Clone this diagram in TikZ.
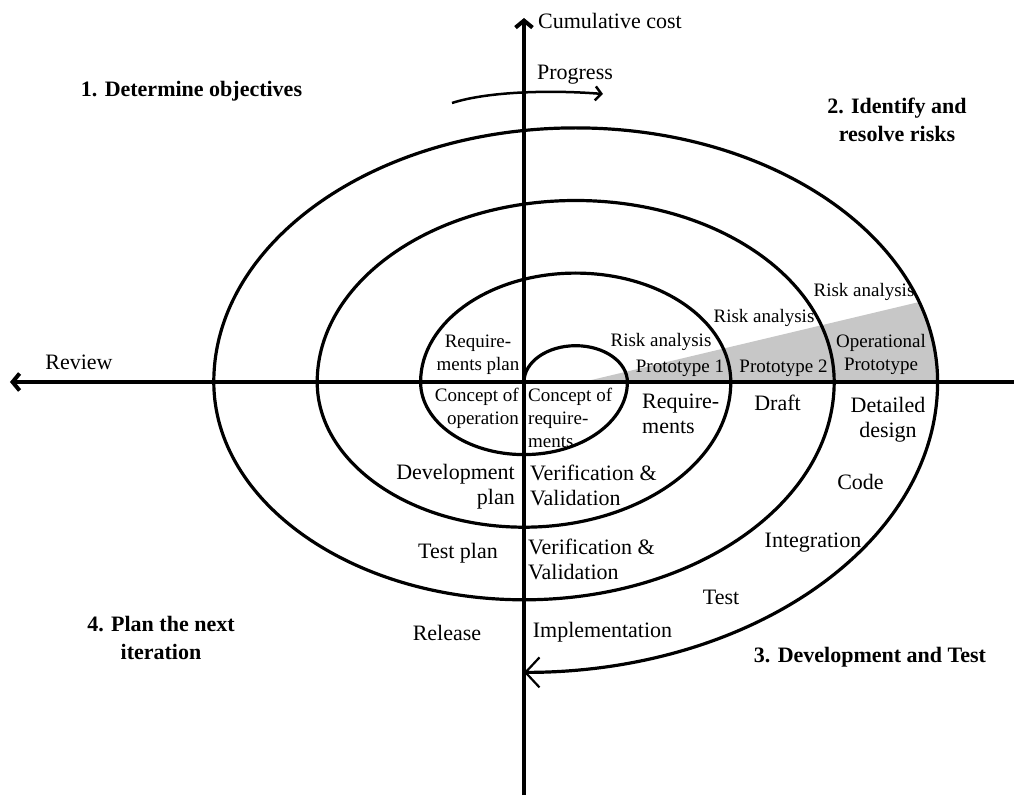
\documentclass[tikz,border=0pt]{standalone}
\usepackage{fontspec}
\setmainfont{Liberation Serif}
\usetikzlibrary{arrows.meta}
\begin{document}
\begin{tikzpicture}[x=1pt,y=1pt,
  axis/.style={line width=4pt},
  spiral/.style={line width=3.2pt},
  axistip/.style={-{Straight Barb[length=7pt,width=17pt]}},
  lbl/.style={inner sep=0pt, font=\fontsize{22}{25}\selectfont},
  small/.style={inner sep=0pt, font=\fontsize{19}{23}\selectfont},
  phase/.style={inner sep=0pt, font=\fontsize{22}{28}\selectfont\bfseries},
]
\useasboundingbox (-524,-413) rectangle (490,382);

% shaded prototype wedge
\fill[black!22] (59,0) -- (395.2,80)
  arc[start angle=18.35,end angle=0,x radius=361.9,y radius=254.1] -- cycle;

% axes
\coordinate (ytop) at (0,364);
\coordinate (ybot) at (0,-413);
\coordinate (xleft) at (-514,0);
\coordinate (xright) at (490,0);
\draw[axis,axistip] (ybot) -- (ytop);
\draw[axis,axistip] (xright) -- (xleft);

% the spiral, built from half ellipses
\coordinate (start) at (0,0);
\draw[spiral,-{Straight Barb[length=14pt,width=30pt,line width=2.2pt]}] (start)
  arc[start angle=180,end angle=0,x radius=51.7,y radius=36.3]
  arc[start angle=0,end angle=-180,x radius=103.4,y radius=72.6]
  arc[start angle=180,end angle=0,x radius=155.1,y radius=108.9]
  arc[start angle=0,end angle=-180,x radius=206.8,y radius=145.2]
  arc[start angle=180,end angle=0,x radius=258.5,y radius=181.5]
  arc[start angle=0,end angle=-180,x radius=310.2,y radius=217.8]
  arc[start angle=180,end angle=0,x radius=361.9,y radius=254.1]
  arc[start angle=0,end angle=-90,x radius=413.6,y radius=290.4];

% progress arrow
\coordinate (pstart) at (-72,279);
\coordinate (pend) at (79,288);
\draw[line width=2.5pt,-{Straight Barb[length=6pt,width=14pt]}]
  (pstart) .. controls (-35,291) and (30,292) .. (pend);

% axis and phase labels
\node[lbl] (cost) at (86,361) {Cumulative cost};
\node[lbl] (progress) at (51,307) {Progress};
\node[lbl] (review) at (-445,20) {Review};
\node[phase] (ph1) at (-332.5,291) {1. Determine objectives};
\node[phase,align=center] (ph2) at (373,262) {2. Identify and\\resolve risks};
\node[phase,align=center] (ph4) at (-363,-256) {4. Plan the next\\iteration};
\node[phase] (ph3) at (346,-275) {3. Development and Test};

% labels inside the spiral
\node[small,align=center] (reqplan) at (-46,27) {Require-\\ments plan};
\node[small,align=right,anchor=east] (conop) at (-5,-26) {Concept of\\operation};
\node[small,align=left,anchor=west] (conreq) at (4,-36) {Concept of\\require-\\ments};
\node[small] (risk1) at (137,40) {Risk analysis};
\node[small] (proto1) at (156,14) {Prototype 1};
\node[small] (risk2) at (240,64) {Risk analysis};
\node[small] (proto2) at (259.5,14) {Prototype 2};
\node[small] (risk3) at (340,90) {Risk analysis};
\node[small,align=center] (opproto) at (357,27.5) {Operational\\Prototype};

\node[lbl,align=left,anchor=west] (req) at (118,-31.5) {Require-\\ments};
\node[lbl] (draft) at (253.5,-21) {Draft};
\node[lbl,align=center] (detail) at (364,-38) {Detailed\\design};
\node[lbl] (code) at (336.5,-100) {Code};
\node[lbl] (integ) at (289,-161) {Integration};
\node[lbl] (test) at (197,-215) {Test};
\node[lbl,align=right,anchor=east] (devplan) at (-9,-104.5) {Development\\plan};
\node[lbl,align=left,anchor=west] (vv1) at (6,-103.5) {Verification \&\\Validation};
\node[lbl] (testplan) at (-66,-171) {Test plan};
\node[lbl,align=left,anchor=west] (vv2) at (4,-177) {Verification \&\\Validation};
\node[lbl] (release) at (-77,-251) {Release};
\node[lbl] (impl) at (78.5,-250) {Implementation};
\end{tikzpicture}
\end{document}
